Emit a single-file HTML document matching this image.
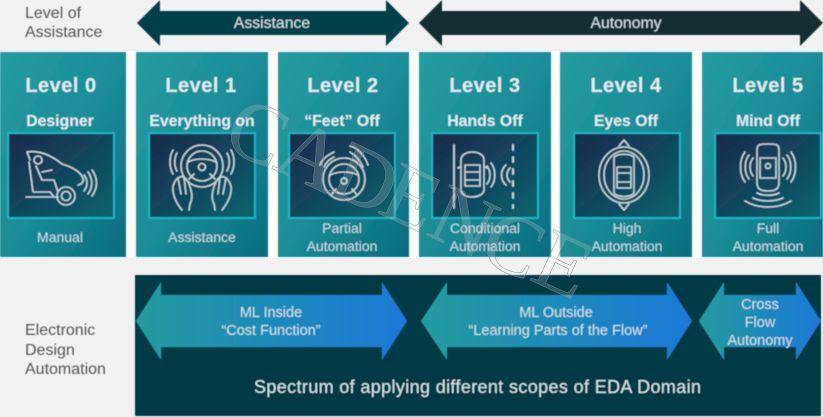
<!DOCTYPE html>
<html><head><meta charset="utf-8"><style>
html,body{margin:0;padding:0;background:#fff}
svg{display:block}
text{font-family:"Liberation Sans",sans-serif}
.t{fill:#e0eeef;text-anchor:middle}
.h{font-size:20px;font-weight:bold;letter-spacing:.5px}
.s{font-size:15.8px;font-weight:bold}
.l{font-size:14px;fill:#c3dde0}
.g{font-size:16px;fill:#555}
.a{font-size:14.5px;fill:#cfe0e4;text-anchor:middle}
.i{fill:none;stroke:#c4d3d6;stroke-width:1.6;stroke-linecap:round;stroke-linejoin:round}
.w{font-family:"Liberation Serif",serif;font-size:85px;fill:#fff;fill-opacity:.16;stroke:#7d8a8b;stroke-width:.45}
</style></head><body>
<svg width="823" height="417" viewBox="0 0 823 417" xmlns="http://www.w3.org/2000/svg">
<defs>
<linearGradient id="c" x1="0" y1="0" x2="1" y2="1"><stop offset="0" stop-color="#259da2"/><stop offset=".5" stop-color="#1b8d98"/><stop offset="1" stop-color="#0a6c80"/></linearGradient>
<linearGradient id="b" x1="0" y1="0" x2="1" y2="1"><stop offset="0" stop-color="#1c2a4a"/><stop offset="1" stop-color="#06636f"/></linearGradient>
<linearGradient id="ar" x1="0" y1="0" x2="1" y2="0"><stop offset="0" stop-color="#229c9f"/><stop offset="1" stop-color="#1c78d6"/></linearGradient>
<filter id="bl" x="-5%" y="-5%" width="110%" height="110%"><feGaussianBlur stdDeviation=".6"/></filter>
<g id="box"><rect x="0" y="0" width="106" height="85" fill="url(#b)" stroke="#1eb4c4" stroke-width="2"/></g>
</defs>
<rect width="823" height="51" fill="#f2f2f2"/>
<rect y="258" width="823" height="159" fill="#f2f2f2"/>
<g filter="url(#bl)">
<text class="g" x="25" y="18">Level of</text>
<text class="g" x="25" y="37">Assistance</text>
<text class="g" x="25" y="335">Electronic</text>
<text class="g" x="25" y="355">Design</text>
<text class="g" x="25" y="374">Automation</text>

<path d="M137 23L160 0V11H386V0L409 23L386 46V35H160V46Z" fill="#024049"/>
<path d="M419 23L442 0V11H800V0L823 23L800 46V35H442V46Z" fill="#132d33"/>
<text x="272" y="28" font-size="15.8" fill="#cfe0e4" text-anchor="middle">Assistance</text>
<text x="626" y="28" font-size="15.8" fill="#cfe0e4" text-anchor="middle">Autonomy</text>

<rect x="0" y="52" width="126" height="205" fill="url(#c)"/>
<rect x="136" y="52" width="132" height="205" fill="url(#c)"/>
<rect x="278" y="52" width="131" height="205" fill="url(#c)"/>
<rect x="419" y="52" width="132" height="205" fill="url(#c)"/>
<rect x="560" y="52" width="132" height="205" fill="url(#c)"/>
<rect x="702" y="52" width="121" height="205" fill="url(#c)"/>

<text class="t h" x="61" y="92">Level 0</text>
<text class="t h" x="201" y="92">Level 1</text>
<text class="t h" x="343" y="92">Level 2</text>
<text class="t h" x="485" y="92">Level 3</text>
<text class="t h" x="626" y="92">Level 4</text>
<text class="t h" x="768" y="92">Level 5</text>

<text class="t s" x="60" y="126">Designer</text>
<text class="t s" x="202" y="126">Everything on</text>
<text class="t s" x="342" y="126">“Feet” Off</text>
<text class="t s" x="485" y="126">Hands Off</text>
<text class="t s" x="626" y="126">Eyes Off</text>
<text class="t s" x="768" y="126">Mind Off</text>

<use href="#box" x="8" y="133"/>
<use href="#box" x="149" y="133"/>
<use href="#box" x="289" y="133"/>
<use href="#box" x="432" y="133"/>
<use href="#box" x="574" y="133"/>
<use href="#box" x="715" y="133"/>

<text class="t l" x="60" y="242">Manual</text>
<text class="t l" x="202" y="242">Assistance</text>
<text class="t l" x="342" y="233">Partial</text>
<text class="t l" x="342" y="251">Automation</text>
<text class="t l" x="485" y="233">Conditional</text>
<text class="t l" x="485" y="251">Automation</text>
<text class="t l" x="627" y="233">High</text>
<text class="t l" x="627" y="251">Automation</text>
<text class="t l" x="768" y="233">Full</text>
<text class="t l" x="768" y="251">Automation</text>

<!-- L0 icon -->
<g class="i">
<path d="M26 197H58M27 152C40 150 52 156 62 164C72 167 80 171 83 178C84 182 82 184 78 185M27 152L30 160"/>
<circle cx="38" cy="160" r="4"/>
<path d="M29 162L33 192H50L54 197M36 166L42 180H54L58 192M42 172L52 170"/>
<circle cx="66" cy="196" r="9"/><circle cx="66" cy="196" r="4.5"/>
<path d="M84 175C88 180 88 186 84 191M88 172C93 179 93 187 88 194M92 170C98 178 98 188 92 196"/>
</g>
<!-- L1 icon -->
<g class="i">
<circle cx="202" cy="166" r="21"/><circle cx="202" cy="166" r="15"/><circle cx="202" cy="167" r="3.5"/>
<path d="M188 162C196 158 208 158 216 162M194 174L189 179M210 174L215 179"/>
<path d="M177 153C174 158 174 166 177 171M173 150C169 157 169 167 173 174M227 153C230 158 230 166 227 171M231 150C235 157 235 167 231 174"/>
<path d="M173 186C177 174 185 174 189 184C192 192 193 198 190 204L189 210M173 186C172 196 177 204 182 210M178 178L181 194M184 177L186 194"/>
<path d="M231 186C227 174 219 174 215 184C212 192 211 198 214 204L215 210M231 186C232 196 227 204 222 210M226 178L223 194M220 177L218 194"/>
</g>
<!-- L2 icon -->
<g class="i">
<circle cx="344" cy="179" r="21"/><circle cx="344" cy="179" r="15"/><circle cx="344" cy="181" r="3"/>
<path d="M330 175C338 171 350 171 358 175M336 189L331 195M352 189L357 195"/>
<path d="M320 165C323 158 328 155 334 152M324 167C326 162 330 159 334 157M368 165C365 156 358 148 350 146M363 167C360 160 355 155 350 152"/>
</g>
<!-- L3 icon -->
<g class="i">
<path d="M454 145V208" stroke-width="1.8"/>
<path d="M461 160C461 154 468 152 472 152C477 152 484 154 484 160V190C484 194 478 197 472 197C466 197 461 194 461 190Z"/>
<path d="M465 165H480V186H465ZM465 172H480M465 180H480M460 167L458 168M485 167L487 168"/>
<path d="M487 166C491 171 491 179 487 184M491 163C496 169 496 181 491 187M506 165C500 170 500 180 506 185M510 168C506 172 506 178 510 182"/>
<path d="M513 145V208" stroke-dasharray="5 7" stroke-width="2"/>
</g>
<!-- L4 icon -->
<g class="i">
<ellipse cx="624" cy="175" rx="25" ry="28"/>
<ellipse cx="624" cy="175" rx="20" ry="24"/>
<path d="M619 146L624 140L629 146M619 204L624 210L629 204"/>
<path d="M614 158C614 153 634 153 634 158V192C634 198 614 198 614 192ZM617 167H631V188H617ZM617 173H631M617 182H631"/>
</g>
<!-- L5 icon -->
<g class="i">
<path d="M757 150C757 144 760 144 768 144C776 144 779 144 779 150V182C779 189 776 191 768 191C760 191 757 189 757 182Z"/>
<path d="M760 158H776V178H760Z"/><circle cx="768" cy="166" r="2.5"/>
<path d="M753 158C749 163 749 171 753 176M749 155C744 161 744 173 749 179M745 152C739 160 739 174 745 182M783 158C787 163 787 171 783 176M787 155C792 161 792 173 787 179M791 152C797 160 797 174 791 182"/>
<path d="M757 193C763 196 773 196 779 193M753 198C762 202 774 202 783 198M745 201C758 209 778 209 791 201"/>
</g>

<rect x="135" y="275" width="686" height="141" fill="#023a44"/>
<path d="M136 321L161 282V295H382V282L407 321L382 360V347H161V360Z" fill="url(#ar)"/>
<path d="M421 321L447 282V295H667V282L692 321L667 360V347H447V360Z" fill="url(#ar)"/>
<path d="M699 321L724 282V295H796V282L821 321L796 360V347H724V360Z" fill="url(#ar)"/>
<text class="a" x="271" y="317">ML Inside</text>
<text class="a" x="271" y="335">“Cost Function”</text>
<text class="a" x="556" y="317">ML Outside</text>
<text class="a" x="558" y="335">“Learning Parts of the Flow”</text>
<text class="a" x="760" y="309">Cross</text>
<text class="a" x="760" y="327">Flow</text>
<text class="a" x="760" y="345">Autonomy</text>
<text x="254" y="393" font-size="18" fill="#d6e4e6" textLength="447">Spectrum of applying different scopes of EDA Domain</text>
</g>

<!-- watermark -->
<g>
<text class="w" transform="translate(220,146) rotate(25)">C</text>
<text class="w" transform="translate(271,168) rotate(25)">A</text>
<text class="w" transform="translate(326,191) rotate(25)">D</text>
<text class="w" transform="translate(376,212) rotate(25)">E</text>
<text class="w" transform="translate(424,234) rotate(25)">N</text>
<text class="w" transform="translate(476,258) rotate(25)">C</text>
<text class="w" transform="translate(528,279) rotate(25)">E</text>
</g>
</svg>
</body></html>
